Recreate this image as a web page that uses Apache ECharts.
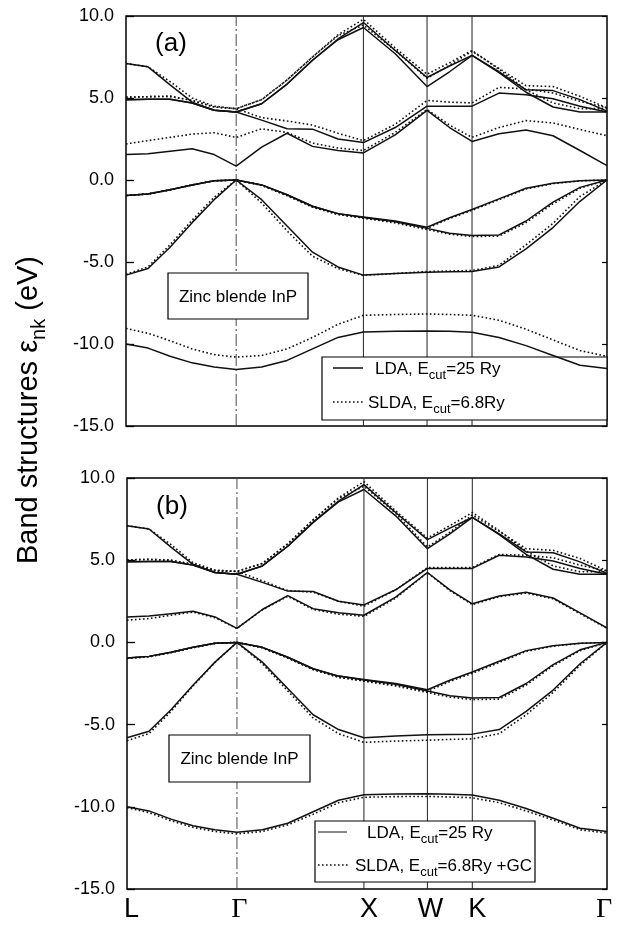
<!DOCTYPE html>
<html>
<head>
<meta charset="utf-8">
<script src="https://cdn.jsdelivr.net/npm/echarts@6/dist/echarts.min.js"></script>
<style>
  html, body { margin: 0; padding: 0; background: #fff; }
  #chart { width: 624px; height: 929px; }
</style>
</head>
<body>
<div id="chart"></div>
<script>
// k-path positions (units of 2π/a) along L–Γ–X–W–K–Γ
const kPath = [0, 0.1732, 0.3464, 0.5196, 0.6928, 0.8660, 1.0660, 1.2660, 1.4660, 1.6660, 1.8660,
               2.1160, 2.3660, 2.5428, 2.7196, 2.9318, 3.1439, 3.3561, 3.5682, 3.7804];
const symK = [0, 0.8660, 1.8660, 2.3660, 2.7196, 3.7804];
const symLabels = ['L', 'Γ', 'X', 'W', 'K', 'Γ'];
const yTicks = [-15, -10, -5, 0, 5, 10];

// LDA, Ecut = 25 Ry (eV)
const lda1 = [-10.0, -10.25, -10.75, -11.15, -11.4, -11.55, -11.4, -11.0, -10.3, -9.6, -9.27, -9.22, -9.2, -9.23, -9.28, -9.6, -10.1, -10.7, -11.3, -11.5];
const lda2 = [-5.8, -5.4, -4.1, -2.6, -1.2, 0, -1.2, -2.8, -4.4, -5.3, -5.8, -5.7, -5.62, -5.6, -5.58, -5.3, -4.2, -2.9, -1.3, 0];
const lda3 = [-0.95, -0.85, -0.6, -0.3, -0.05, 0, -0.3, -0.9, -1.6, -2.05, -2.28, -2.55, -2.95, -3.25, -3.38, -3.35, -2.5, -1.35, -0.45, 0];
const lda4 = [-0.95, -0.85, -0.6, -0.3, -0.05, 0, -0.3, -0.9, -1.6, -2.05, -2.25, -2.5, -2.88, -2.3, -1.8, -1.15, -0.5, -0.2, -0.05, 0];
const lda5 = [1.55, 1.6, 1.75, 1.9, 1.55, 0.85, 2.0, 2.85, 2.05, 1.8, 1.65, 2.75, 4.25, 3.2, 2.35, 2.82, 3.05, 2.7, 1.8, 0.88];
const lda6 = [4.9, 4.92, 4.92, 4.7, 4.25, 4.15, 3.65, 3.12, 3.1, 2.5, 2.28, 3.2, 4.5, 4.5, 4.5, 5.3, 5.2, 4.95, 4.5, 4.15];
const lda7 = [4.9, 4.92, 4.92, 4.7, 4.25, 4.15, 4.65, 5.85, 7.3, 8.55, 9.3, 7.7, 5.7, 6.6, 7.6, 6.6, 5.5, 5.45, 4.9, 4.2];
const lda8 = [7.1, 6.9, 5.8, 4.75, 4.25, 4.15, 4.65, 5.85, 7.3, 8.6, 9.6, 7.9, 6.25, 6.95, 7.6, 6.55, 5.35, 4.45, 4.15, 4.15];

// SLDA, Ecut = 6.8 Ry
const slda1 = [-9.05, -9.35, -9.8, -10.3, -10.65, -10.8, -10.7, -10.3, -9.6, -8.8, -8.25, -8.2, -8.17, -8.2, -8.25, -8.55, -9.1, -9.75, -10.4, -10.75];
const slda2 = [-5.75, -5.3, -3.95, -2.45, -1.05, 0, -1.4, -3.1, -4.65, -5.4, -5.82, -5.7, -5.58, -5.55, -5.52, -5.2, -3.95, -2.65, -1.0, 0];
const slda3 = [-0.95, -0.85, -0.6, -0.3, -0.05, 0, -0.32, -0.95, -1.65, -2.1, -2.32, -2.62, -3.02, -3.3, -3.45, -3.42, -2.6, -1.45, -0.5, 0];
const slda4 = [-0.95, -0.85, -0.6, -0.3, -0.05, 0, -0.32, -0.95, -1.65, -2.1, -2.32, -2.55, -2.95, -2.35, -1.85, -1.2, -0.55, -0.22, -0.05, 0];
const slda5 = [2.2, 2.4, 2.6, 2.8, 2.88, 2.6, 3.12, 2.9, 2.25, 1.95, 1.8, 2.9, 4.3, 3.35, 2.6, 3.2, 3.62, 3.48, 3.08, 2.7];
const slda6 = [5.05, 5.08, 5.1, 4.85, 4.45, 4.35, 3.8, 3.6, 3.35, 2.85, 2.4, 3.4, 4.85, 4.75, 4.7, 5.65, 5.55, 5.3, 4.8, 4.4];
const slda7 = [5.05, 5.08, 5.1, 4.85, 4.45, 4.35, 4.9, 6.1, 7.5, 8.8, 9.45, 7.9, 6.2, 7.0, 7.85, 6.8, 5.75, 5.7, 5.1, 4.4];
const slda8 = [7.1, 6.9, 6.0, 5.0, 4.5, 4.35, 4.9, 6.1, 7.5, 8.85, 9.8, 8.05, 6.45, 7.15, 7.9, 6.75, 5.5, 4.7, 4.35, 4.35];

// SLDA, Ecut = 6.8 Ry + gradient correction
const gc1 = [-10.05, -10.35, -10.85, -11.25, -11.5, -11.65, -11.5, -11.1, -10.45, -9.75, -9.42, -9.38, -9.37, -9.4, -9.45, -9.75, -10.25, -10.8, -11.4, -11.6];
const gc2 = [-5.98, -5.55, -4.2, -2.65, -1.22, 0, -1.3, -2.95, -4.6, -5.55, -6.08, -6.0, -5.95, -5.9, -5.87, -5.55, -4.4, -3.05, -1.4, 0];
const gc3 = [-0.97, -0.87, -0.62, -0.32, -0.06, 0, -0.33, -0.95, -1.65, -2.12, -2.35, -2.65, -3.05, -3.33, -3.48, -3.45, -2.6, -1.42, -0.5, 0];
const gc4 = [-0.97, -0.87, -0.62, -0.32, -0.06, 0, -0.33, -0.95, -1.65, -2.12, -2.35, -2.6, -2.98, -2.38, -1.88, -1.22, -0.55, -0.23, -0.06, 0];
const gc5 = [1.35, 1.45, 1.65, 1.85, 1.5, 0.85, 1.98, 2.8, 2.0, 1.72, 1.58, 2.7, 4.25, 3.15, 2.3, 2.78, 3.0, 2.65, 1.75, 0.85];
const gc6 = [5.02, 5.05, 5.0, 4.75, 4.35, 4.32, 3.75, 3.15, 3.05, 2.5, 2.2, 3.2, 4.55, 4.55, 4.55, 5.35, 5.3, 5.15, 4.7, 4.35];
const gc7 = [5.02, 5.05, 5.0, 4.75, 4.35, 4.32, 4.8, 6.0, 7.45, 8.75, 9.5, 7.85, 5.8, 6.7, 7.75, 6.75, 5.7, 5.6, 5.1, 4.35];
const gc8 = [7.1, 6.9, 5.95, 4.85, 4.4, 4.32, 4.8, 6.0, 7.45, 8.8, 9.78, 8.0, 6.35, 7.1, 7.9, 6.8, 5.55, 4.65, 4.3, 4.3];

const ldaBands = [lda1, lda2, lda3, lda4, lda5, lda6, lda7, lda8];
const sldaBands = [slda1, slda2, slda3, slda4, slda5, slda6, slda7, slda8];
const gcBands = [gc1, gc2, gc3, gc4, gc5, gc6, gc7, gc8];

const FONT = "'Liberation Sans', Arial, Helvetica, sans-serif";
const SERIF = "'Liberation Serif', 'Times New Roman', serif";
const SOLID = { color: '#111', width: 1.5, type: 'solid' };
const DOTTED = { color: '#111', width: 1.6, type: [1.6, 2.4] };

const chart = echarts.init(document.getElementById('chart'), null, { renderer: 'canvas' });

// band curves sit above the annotation boxes; symmetry lines sit below them
function bandSeries(bands, panel, style) {
  return bands.map(b => ({
    type: 'line', xAxisIndex: panel, yAxisIndex: panel * 2,
    data: kPath.map((k, i) => [k, b[i]]),
    symbol: 'none', silent: true, lineStyle: style, z: 30
  }));
}

function symLines(panel) {
  return symK.slice(1, 5).map((k, i) => ({
    type: 'line', xAxisIndex: panel, yAxisIndex: panel * 2,
    data: [[k, -15], [k, 10]], symbol: 'none', silent: true, z: 2,
    lineStyle: i === 0
      ? { color: '#333', width: 0.9, type: [12, 3, 2, 3] }
      : { color: '#222', width: 1 }
  }));
}

const grids = [
  { left: 126, top: 16, width: 481, height: 410 },
  { left: 127, top: 478, width: 480, height: 411 }
];

const option = {
  animation: false,
  backgroundColor: '#fff',
  grid: grids.map(g => Object.assign({ show: true, borderColor: '#000', borderWidth: 1.5, backgroundColor: 'transparent' }, g)),
  xAxis: [0, 1].map(p => ({
    type: 'value', gridIndex: p, min: 0, max: kPath[kPath.length - 1],
    axisLine: { show: false }, axisTick: { show: false }, axisLabel: { show: false }, splitLine: { show: false }
  })),
  yAxis: [0, 1].flatMap(p => [
    {
      type: 'value', gridIndex: p, min: -15, max: 10, interval: 5, position: 'left',
      axisLine: { show: false }, splitLine: { show: false },
      axisTick: { show: true, inside: true, length: 8, lineStyle: { color: '#000', width: 1.3 } },
      axisLabel: { show: true, margin: 12, color: '#000', fontFamily: FONT, fontSize: 18,
                   formatter: v => yTicks.includes(v) ? v.toFixed(1) : '' }
    },
    {
      type: 'value', gridIndex: p, min: -15, max: 10, interval: 5, position: 'right',
      axisLine: { show: false }, splitLine: { show: false },
      axisTick: { show: true, inside: true, length: 5, lineStyle: { color: '#000', width: 1.2 } },
      axisLabel: { show: false }
    }
  ]),
  series: [].concat(
    symLines(0), symLines(1),
    bandSeries(ldaBands, 0, SOLID), bandSeries(sldaBands, 0, DOTTED),
    bandSeries(ldaBands, 1, SOLID), bandSeries(gcBands, 1, DOTTED)
  )
};
chart.setOption(option);

// annotations: panel tags, material boxes, legends, axis title and k-point labels
const subRich = {
  m: { fontFamily: FONT, fontSize: 17, lineHeight: 26, verticalAlign: 'middle', fill: '#000' },
  s: { fontFamily: FONT, fontSize: 13, lineHeight: 13, verticalAlign: 'bottom', fill: '#000' }
};

function legendEntry(x0, x1, y, style, textX, parts) {
  return [
    { type: 'line', shape: { x1: x0, y1: y, x2: x1, y2: y }, z: 20,
      style: { stroke: '#111', lineWidth: style.width, lineDash: Array.isArray(style.type) ? style.type : null } },
    { type: 'text', x: textX, y: y + 1, z: 20,
      style: { text: parts, rich: subRich, verticalAlign: 'middle', align: 'left' } }
  ];
}

function box(x, y, w, h) {
  return { type: 'rect', shape: { x, y, width: w, height: h }, z: 15,
           style: { fill: '#fff', stroke: '#000', lineWidth: 1.2 } };
}

const gfx = [
  { type: 'text', x: 171, y: 44, z: 20, style: { text: '(a)', fontFamily: FONT, fontSize: 26, fill: '#000', align: 'center', verticalAlign: 'middle' } },
  { type: 'text', x: 172, y: 507, z: 20, style: { text: '(b)', fontFamily: FONT, fontSize: 26, fill: '#000', align: 'center', verticalAlign: 'middle' } },
  box(168, 273, 140, 46),
  { type: 'text', x: 238, y: 297, z: 20, style: { text: 'Zinc blende InP', fontFamily: FONT, fontSize: 17, fill: '#000', align: 'center', verticalAlign: 'middle' } },
  box(169, 735, 141, 47),
  { type: 'text', x: 239.5, y: 759, z: 20, style: { text: 'Zinc blende InP', fontFamily: FONT, fontSize: 17, fill: '#000', align: 'center', verticalAlign: 'middle' } },
  box(322, 357, 285, 63),
  ...legendEntry(333, 363, 368, SOLID, 375, '{m|LDA, E}{s|cut}{m|=25 Ry}'),
  ...legendEntry(333, 365, 402, DOTTED, 368, '{m|SLDA, E}{s|cut}{m|=6.8Ry}'),
  box(315, 821, 220, 61),
  ...legendEntry(318, 347, 832, { width: 1, type: 'solid' }, 367, '{m|LDA, E}{s|cut}{m|=25 Ry}'),
  ...legendEntry(318, 348, 865, DOTTED, 355, '{m|SLDA, E}{s|cut}{m|=6.8Ry +GC}'),
  { type: 'text', x: 29, y: 410, rotation: Math.PI / 2, z: 20,
    style: { text: '{t|Band structures ε}{u|nk}{t| (eV)}', align: 'center', verticalAlign: 'middle',
             rich: { t: { fontFamily: FONT, fontSize: 29, lineHeight: 40, fill: '#000' },
                     u: { fontFamily: FONT, fontSize: 20, lineHeight: 26, verticalAlign: 'bottom', fill: '#000' } } } }
];

const labelNudge = [4.5, 2.5, 5, 3, 5, -3];
symK.forEach((k, i) => {
  const px = chart.convertToPixel({ xAxisIndex: 1 }, k);
  gfx.push({ type: 'text', x: px + labelNudge[i], y: 910, z: 20,
    style: { text: symLabels[i], fontFamily: symLabels[i] === 'Γ' ? SERIF : FONT,
             fontSize: symLabels[i] === 'Γ' ? 28 : 27, fill: '#000', align: 'center', verticalAlign: 'middle' } });
});

chart.setOption({ graphic: gfx });
</script>
</body>
</html>
